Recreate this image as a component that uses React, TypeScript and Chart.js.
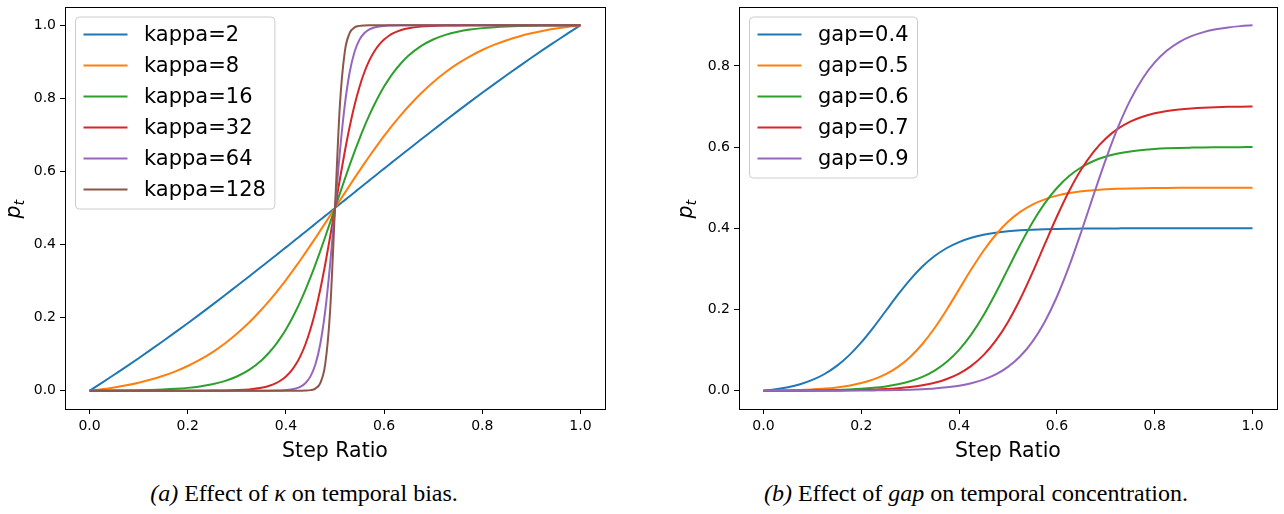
import React, { useEffect, useRef } from "react";
import { Chart, registerables } from "chart.js";

Chart.register(...registerables);

// ---------- data ----------
const X_TICKS = [0, 0.2, 0.4, 0.6, 0.8, 1.0];
const KAPPA_Y_TICKS = [0, 0.2, 0.4, 0.6, 0.8, 1.0];
const GAP_Y_TICKS = [0, 0.2, 0.4, 0.6, 0.8];

const KAPPA_LABELS = ["kappa=2", "kappa=8", "kappa=16", "kappa=32", "kappa=64", "kappa=128"];
const GAP_LABELS = ["gap=0.4", "gap=0.5", "gap=0.6", "gap=0.7", "gap=0.9"];

const STEP_KAPPA = [0, 0.025, 0.05, 0.075, 0.1, 0.125, 0.15, 0.175, 0.2, 0.225, 0.25, 0.275, 0.3, 0.325, 0.35, 0.365, 0.38, 0.39, 0.4, 0.41, 0.42, 0.43, 0.44, 0.45, 0.46, 0.47, 0.48, 0.49, 0.5, 0.51, 0.52, 0.53, 0.54, 0.55, 0.56, 0.57, 0.58, 0.59, 0.6, 0.61, 0.62, 0.635, 0.65, 0.675, 0.7, 0.725, 0.75, 0.775, 0.8, 0.825, 0.85, 0.875, 0.9, 0.925, 0.95, 0.975, 1.0];
const KAPPA_2 = [0, 0.0215, 0.0437, 0.066, 0.0889, 0.1123, 0.1361, 0.1602, 0.1848, 0.2097, 0.235, 0.2606, 0.2866, 0.3126, 0.3391, 0.3548, 0.3709, 0.3815, 0.3923, 0.4029, 0.4137, 0.4244, 0.4351, 0.446, 0.4568, 0.4676, 0.4784, 0.4892, 0.5, 0.5108, 0.5216, 0.5324, 0.5432, 0.554, 0.5649, 0.5756, 0.5863, 0.5971, 0.6077, 0.6185, 0.6291, 0.6452, 0.6609, 0.6874, 0.7134, 0.7394, 0.765, 0.7903, 0.8152, 0.8398, 0.8639, 0.8877, 0.9111, 0.934, 0.9563, 0.9785, 1];
const KAPPA_8 = [0, 0.004, 0.0089, 0.0148, 0.022, 0.0305, 0.0408, 0.0531, 0.0676, 0.0848, 0.105, 0.1285, 0.1556, 0.1865, 0.2215, 0.2443, 0.2685, 0.2854, 0.3029, 0.321, 0.3395, 0.3585, 0.3779, 0.3976, 0.4177, 0.4381, 0.4586, 0.4793, 0.5, 0.5207, 0.5414, 0.5619, 0.5823, 0.6024, 0.6221, 0.6415, 0.6605, 0.679, 0.6971, 0.7146, 0.7315, 0.7557, 0.7785, 0.8135, 0.8444, 0.8715, 0.895, 0.9152, 0.9324, 0.9469, 0.9592, 0.9695, 0.978, 0.9852, 0.9911, 0.996, 1];
const KAPPA_16 = [0, 0.0002, 0.0004, 0.0008, 0.0013, 0.0021, 0.0034, 0.0052, 0.0078, 0.0118, 0.0177, 0.0263, 0.0389, 0.057, 0.0829, 0.1032, 0.1276, 0.1466, 0.1678, 0.1914, 0.2174, 0.2459, 0.2767, 0.3099, 0.3452, 0.3822, 0.4206, 0.4601, 0.5, 0.5399, 0.5794, 0.6178, 0.6548, 0.6901, 0.7233, 0.7541, 0.7826, 0.8086, 0.8322, 0.8534, 0.8724, 0.8968, 0.9171, 0.943, 0.9611, 0.9737, 0.9823, 0.9882, 0.9922, 0.9948, 0.9966, 0.9979, 0.9987, 0.9992, 0.9996, 0.9998, 1];
const KAPPA_32 = [0, 0, 0, 0, 0, 0, 0, 0, 0.0001, 0.0002, 0.0003, 0.0007, 0.0017, 0.0037, 0.0082, 0.0131, 0.021, 0.0287, 0.0392, 0.0531, 0.0718, 0.0962, 0.1279, 0.168, 0.2176, 0.2769, 0.3453, 0.4207, 0.5, 0.5793, 0.6547, 0.7231, 0.7824, 0.832, 0.8721, 0.9038, 0.9282, 0.9469, 0.9608, 0.9713, 0.979, 0.9869, 0.9918, 0.9963, 0.9983, 0.9993, 0.9997, 0.9998, 0.9999, 1, 1, 1, 1, 1, 1, 1, 1];
const KAPPA_64 = [0, 0, 0, 0, 0, 0, 0, 0, 0, 0, 0, 0, 0, 0, 0.0001, 0.0002, 0.0005, 0.0009, 0.0017, 0.0031, 0.0059, 0.0112, 0.021, 0.0392, 0.0718, 0.1279, 0.2176, 0.3453, 0.5, 0.6547, 0.7824, 0.8721, 0.9282, 0.9608, 0.979, 0.9888, 0.9941, 0.9969, 0.9983, 0.9991, 0.9995, 0.9998, 0.9999, 1, 1, 1, 1, 1, 1, 1, 1, 1, 1, 1, 1, 1, 1];
const KAPPA_128 = [0, 0, 0, 0, 0, 0, 0, 0, 0, 0, 0, 0, 0, 0, 0, 0, 0, 0, 0, 0, 0, 0.0001, 0.0005, 0.0017, 0.0059, 0.021, 0.0718, 0.2176, 0.5, 0.7824, 0.9282, 0.979, 0.9941, 0.9983, 0.9995, 0.9999, 1, 1, 1, 1, 1, 1, 1, 1, 1, 1, 1, 1, 1, 1, 1, 1, 1, 1, 1, 1, 1];

const STEP_GAP = [0, 0.025, 0.05, 0.075, 0.1, 0.125, 0.15, 0.175, 0.2, 0.225, 0.25, 0.275, 0.3, 0.325, 0.35, 0.375, 0.4, 0.425, 0.45, 0.475, 0.5, 0.525, 0.55, 0.575, 0.6, 0.625, 0.65, 0.675, 0.7, 0.725, 0.75, 0.775, 0.8, 0.825, 0.85, 0.875, 0.9, 0.925, 0.95, 0.975, 1.0];
const GAP_04 = [0, 0.0035, 0.0086, 0.016, 0.0266, 0.0412, 0.0611, 0.087, 0.119, 0.1561, 0.1963, 0.2365, 0.2737, 0.3057, 0.3316, 0.3515, 0.3661, 0.3767, 0.3841, 0.3892, 0.3927, 0.3951, 0.3967, 0.3978, 0.3985, 0.399, 0.3993, 0.3996, 0.3997, 0.3998, 0.3999, 0.3999, 0.3999, 0.4, 0.4, 0.4, 0.4, 0.4, 0.4, 0.4, 0.4];
const GAP_05 = [0, 0.0004, 0.001, 0.0019, 0.0033, 0.0052, 0.0082, 0.0125, 0.0188, 0.0279, 0.0408, 0.0589, 0.0833, 0.1151, 0.1545, 0.2002, 0.2496, 0.299, 0.3448, 0.3841, 0.4159, 0.4403, 0.4584, 0.4713, 0.4804, 0.4867, 0.491, 0.494, 0.496, 0.4973, 0.4982, 0.4988, 0.4992, 0.4995, 0.4997, 0.4998, 0.4999, 0.4999, 0.5, 0.5, 0.5];
const GAP_06 = [0, 0.0001, 0.0002, 0.0005, 0.0008, 0.0013, 0.002, 0.0031, 0.0047, 0.0071, 0.0106, 0.0158, 0.0233, 0.0342, 0.0497, 0.0714, 0.1007, 0.1388, 0.1859, 0.2407, 0.3, 0.3593, 0.4141, 0.4612, 0.4993, 0.5286, 0.5503, 0.5658, 0.5767, 0.5842, 0.5894, 0.5929, 0.5953, 0.5969, 0.598, 0.5987, 0.5992, 0.5995, 0.5998, 0.5999, 0.6];
const GAP_07 = [0, 0, 0.0001, 0.0002, 0.0003, 0.0005, 0.0008, 0.0012, 0.0018, 0.0027, 0.004, 0.006, 0.0089, 0.0133, 0.0196, 0.0289, 0.0423, 0.0613, 0.0878, 0.1233, 0.1694, 0.2258, 0.2908, 0.3603, 0.429, 0.4919, 0.5455, 0.5885, 0.6213, 0.6454, 0.6627, 0.6747, 0.6831, 0.6888, 0.6927, 0.6953, 0.6971, 0.6983, 0.6991, 0.6996, 0.7];
const GAP_09 = [0, 0, 0, 0, 0.0001, 0.0001, 0.0002, 0.0003, 0.0005, 0.0008, 0.0011, 0.0017, 0.0025, 0.0038, 0.0056, 0.0084, 0.0125, 0.0185, 0.0274, 0.0402, 0.0587, 0.0849, 0.1211, 0.1695, 0.2315, 0.3067, 0.3922, 0.4822, 0.5699, 0.649, 0.7156, 0.7685, 0.8085, 0.8378, 0.8587, 0.8732, 0.8831, 0.8901, 0.8947, 0.8979, 0.9];

const COLORS = ["#1f77b4", "#ff7f0e", "#2ca02c", "#d62728", "#9467bd", "#8c564b"];

// ---------- helpers ----------
const SANS = '"DejaVu Sans", sans-serif';
const LEGEND_FONT = 21;

const framePlugin = {
  id: "mplFrame",
  afterDatasetsDraw(chart: any) {
    const { ctx, chartArea: a } = chart;
    ctx.save();
    ctx.strokeStyle = "#000";
    ctx.lineWidth = 1;
    const l = Math.floor(a.left) + 0.5;
    const t = Math.floor(a.top) + 0.5;
    const r = Math.floor(a.right) + 0.5;
    const b = Math.floor(a.bottom) + 0.5;
    ctx.strokeRect(l, t, r - l, b - t);
    ctx.restore();
  },
  afterDraw(chart: any, _args: any, opts: any) {
    const { ctx, chartArea: a } = chart;
    const ds = chart.data.datasets;
    ctx.save();
    ctx.font = `${LEGEND_FONT}px ${SANS}`;
    let maxW = 0;
    ds.forEach((d: any) => { maxW = Math.max(maxW, ctx.measureText(d.label).width); });
    const bx = a.left + 10.5;
    const by = a.top + 10;
    const rowGap = 31;
    const firstRow = 17.5;
    const textOff = 68.5;
    const w = textOff + maxW + 9;
    const h = firstRow + (ds.length - 1) * rowGap + 19.5;
    const rr = 4;
    ctx.beginPath();
    ctx.moveTo(bx + rr, by);
    ctx.lineTo(bx + w - rr, by);
    ctx.arcTo(bx + w, by, bx + w, by + rr, rr);
    ctx.lineTo(bx + w, by + h - rr);
    ctx.arcTo(bx + w, by + h, bx + w - rr, by + h, rr);
    ctx.lineTo(bx + rr, by + h);
    ctx.arcTo(bx, by + h, bx, by + h - rr, rr);
    ctx.lineTo(bx, by + rr);
    ctx.arcTo(bx, by, bx + rr, by, rr);
    ctx.closePath();
    ctx.fillStyle = "rgba(255,255,255,0.8)";
    ctx.fill();
    ctx.strokeStyle = "#cccccc";
    ctx.lineWidth = 1;
    ctx.stroke();
    ds.forEach((d: any, i: number) => {
      const y = by + firstRow + i * rowGap;
      ctx.strokeStyle = d.borderColor;
      ctx.lineWidth = 2;
      ctx.beginPath();
      ctx.moveTo(bx + 8, y);
      ctx.lineTo(bx + 52, y);
      ctx.stroke();
      ctx.fillStyle = "#000";
      ctx.textBaseline = "middle";
      ctx.textAlign = "left";
      ctx.fillText(d.label, bx + textOff, y + 1);
    });
    // y-axis label p_t
    const yl = opts.ylabel;
    ctx.translate(yl.x, yl.y);
    ctx.rotate(-Math.PI / 2);
    ctx.fillStyle = "#000";
    ctx.textBaseline = "alphabetic";
    ctx.textAlign = "left";
    ctx.font = `italic 20.5px ${SANS}`;
    ctx.fillText("p", 0, 0);
    const pw = ctx.measureText("p").width;
    ctx.font = `italic 14.5px ${SANS}`;
    ctx.fillText("t", pw, 4.5);
    ctx.restore();
  },
};

type Spec = {
  xs: number[];
  series: number[][];
  labels: string[];
  yMin: number;
  yMax: number;
  yTicks: number[];
  yAxisWidth: number;
  padRight: number;
  ylabel: { x: number; y: number };
};

function buildConfig(s: Spec): any {
  const n = s.series.length;
  return {
    type: "line",
    data: {
      datasets: s.series.map((ys, i) => ({
        label: s.labels[i],
        data: s.xs.map((x, j) => ({ x, y: ys[j] })),
        borderColor: COLORS[i],
        backgroundColor: COLORS[i],
        borderWidth: 2,
        pointRadius: 0,
        cubicInterpolationMode: "monotone",
        fill: false,
        order: n - i,
      })),
    },
    options: {
      responsive: false,
      animation: false,
      events: [],
      layout: { padding: { left: 0, top: 7, right: s.padRight, bottom: 0 } },
      plugins: {
        legend: { display: false },
        tooltip: { enabled: false },
        mplFrame: { ylabel: s.ylabel },
      },
      scales: {
        x: {
          type: "linear",
          min: -0.05,
          max: 1.05,
          afterBuildTicks: (sc: any) => { sc.ticks = X_TICKS.map((v) => ({ value: v })); },
          afterFit: (sc: any) => { sc.height = 61; sc.paddingLeft = 0; sc.paddingRight = 0; },
          grid: { display: true, drawOnChartArea: false, drawTicks: true, tickLength: 5, tickWidth: 1, tickColor: "#000" },
          border: { display: false },
          ticks: {
            autoSkip: false,
            maxRotation: 0,
            padding: 4,
            color: "#000",
            font: { family: SANS, size: 14 },
            callback: (v: number) => Number(v).toFixed(1),
          },
          title: {
            display: true,
            text: "Step Ratio",
            color: "#000",
            font: { family: SANS, size: 20.5, lineHeight: 1.2 },
            padding: { top: 0, bottom: 6 },
          },
        },
        y: {
          type: "linear",
          min: s.yMin,
          max: s.yMax,
          afterBuildTicks: (sc: any) => { sc.ticks = s.yTicks.map((v) => ({ value: v })); },
          afterFit: (sc: any) => { sc.width = s.yAxisWidth; sc.paddingTop = 0; sc.paddingBottom = 0; },
          grid: { display: true, drawOnChartArea: false, drawTicks: true, tickLength: 5, tickWidth: 1, tickColor: "#000" },
          border: { display: false },
          ticks: {
            autoSkip: false,
            padding: 4,
            color: "#000",
            font: { family: SANS, size: 14 },
            callback: (v: number) => Number(v).toFixed(1),
          },
        },
      },
    },
    plugins: [framePlugin],
  };
}

function Panel({ spec, left, width }: { spec: Spec; left: number; width: number }) {
  const ref = useRef<HTMLCanvasElement | null>(null);
  useEffect(() => {
    if (!ref.current) return;
    const chart = new Chart(ref.current, buildConfig(spec));
    return () => chart.destroy();
  }, []);
  return (
    <canvas
      ref={ref}
      width={width}
      height={470}
      style={{ position: "absolute", left, top: 0, width, height: 470 }}
    />
  );
}

const captionStyle: React.CSSProperties = {
  position: "absolute",
  top: 481,
  fontFamily: '"Liberation Serif", "Times New Roman", serif',
  fontSize: 24,
  lineHeight: "24px",
  whiteSpace: "nowrap",
  transform: "translateX(-50%)",
  color: "#000",
};

export default function App() {
  const kappaSpec: Spec = {
    xs: STEP_KAPPA,
    series: [KAPPA_2, KAPPA_8, KAPPA_16, KAPPA_32, KAPPA_64, KAPPA_128],
    labels: KAPPA_LABELS,
    yMin: -0.05,
    yMax: 1.05,
    yTicks: KAPPA_Y_TICKS,
    yAxisWidth: 65,
    padRight: 35,
    ylabel: { x: 19.5, y: 218.5 },
  };
  const gapSpec: Spec = {
    xs: STEP_GAP,
    series: [GAP_04, GAP_05, GAP_06, GAP_07, GAP_09],
    labels: GAP_LABELS,
    yMin: -0.045,
    yMax: 0.945,
    yTicks: GAP_Y_TICKS,
    yAxisWidth: 99,
    padRight: 7,
    ylabel: { x: 51.5, y: 218.5 },
  };
  return (
    <div style={{ position: "fixed", left: 0, top: 0, width: 1284, height: 514, background: "#fff", overflow: "hidden" }}>
      <Panel spec={kappaSpec} left={0} width={640} />
      <Panel spec={gapSpec} left={640} width={644} />
      <div style={{ ...captionStyle, left: 304 }}>
        <i>(a)</i> Effect of <i>κ</i> on temporal bias.
      </div>
      <div style={{ ...captionStyle, left: 976 }}>
        <i>(b)</i> Effect of <i>gap</i> on temporal concentration.
      </div>
    </div>
  );
}
